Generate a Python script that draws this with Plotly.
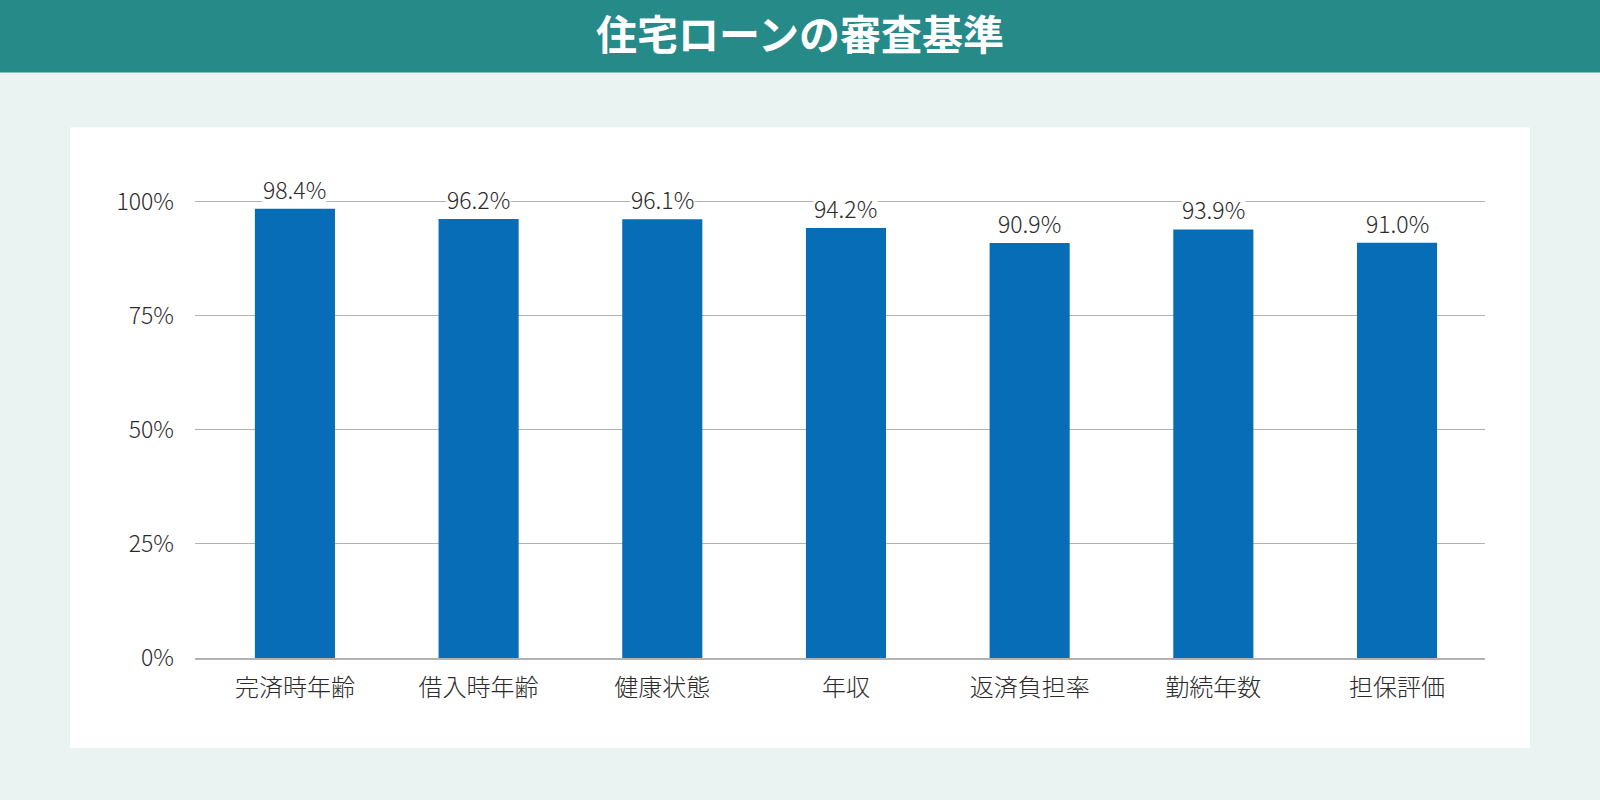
import plotly.graph_objects as go

# data
categories = ["完済時年齢", "借入時年齢", "健康状態", "年収", "返済負担率", "勤続年数", "担保評価"]
values = [98.4, 96.2, 96.1, 94.2, 90.9, 93.9, 91.0]
y_ticks = [0, 25, 50, 75, 100]
y_tick_text = ["0%", "25%", "50%", "75%", "100%"]
title = "住宅ローンの審査基準"

FONT = "Noto Sans CJK JP"
W, H = 1600, 800
# plot area in pixels (y range runs a little past 100 so its gridline is drawn)
Y_MAX = 101
L, R, B = 195, 1485, 658
T = B - (B - 202) * Y_MAX / 100

def px_x(x):
    return (x - L) / (R - L)

def px_y(y):
    return (B - y) / (B - T)

fig = go.Figure()
fig.add_trace(go.Bar(
    x=categories, y=values,
    marker=dict(color="#066db6", line=dict(width=0)),
    hoverinfo="x+y",
))

# value labels with white box (cut the gridline like the original)
for c, v in zip(categories, values):
    fig.add_annotation(
        x=c, y=v, text=f"{v:.1f}%", showarrow=False,
        yanchor="bottom", yshift=2, bgcolor="white", borderpad=0,
        font=dict(family=FONT, size=23, color="#2b2b2b", weight=300),
    )

# background panels
fig.add_shape(type="rect", xref="paper", yref="paper", layer="below",
              x0=px_x(0), x1=px_x(W), y0=px_y(73), y1=px_y(0),
              fillcolor="#268a88", line_width=0)
fig.add_shape(type="rect", xref="paper", yref="paper", layer="below",
              x0=px_x(70), x1=px_x(1530), y0=px_y(748), y1=px_y(128),
              fillcolor="white", line_width=0)

fig.update_layout(
    width=W, height=H,
    margin=dict(l=L, r=W - R, t=T, b=H - B, pad=0),
    paper_bgcolor="#eaf3f2", plot_bgcolor="white",
    bargap=0.564, showlegend=False,
    title=dict(text=f"<b>{title}</b>", x=px_x(800), xanchor="center", xref="paper",
               y=1 - 36 / H, yanchor="middle", yref="container",
               font=dict(family=FONT, size=41, color="white")),
    font=dict(family=FONT),
)

fig.update_xaxes(
    range=[-0.544, 6.479],
    showline=True, linecolor="#b3b3b3", linewidth=1.5,
    showgrid=False, ticks="", ticklabelstandoff=7,
    tickfont=dict(family=FONT, size=24, color="#2b2b2b", weight=300),
)
fig.update_yaxes(
    range=[0, Y_MAX], tickvals=y_ticks, ticktext=y_tick_text,
    showgrid=True, gridcolor="#b3b3b3", gridwidth=1.2, zeroline=False,
    ticks="", ticklabelstandoff=20,
    tickfont=dict(family=FONT, size=23, color="#2b2b2b", weight=300),
)

fig.write_html("out.html", config={"displayModeBar": False},
               post_script="document.body.style.margin='0';")
